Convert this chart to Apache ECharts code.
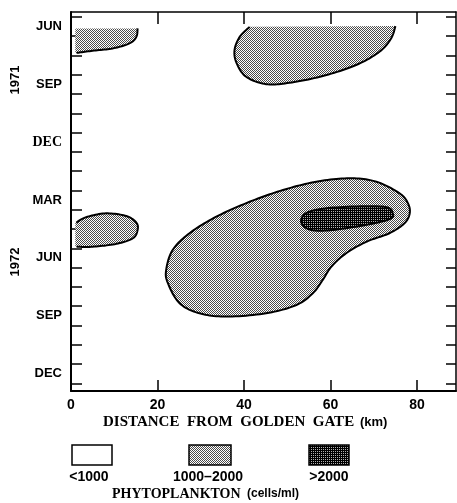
<!DOCTYPE html>
<html><head><meta charset="utf-8">
<script src="https://cdn.jsdelivr.net/npm/echarts/dist/echarts.min.js"></script>
<style>html,body{margin:0;padding:0;background:#fff}#c{width:457px;height:503px}</style>
</head><body><div id="c"></div>
<script>
// ---- data ----
const xTickValues = [0, 20, 40, 60, 80];
const monthTickValues = [0,1,2,3,4,5,6,7,8,9,10,11,12,13,14,15,16,17,18,19]; // month boundaries, 0 = 1 Jun 1971
const monthLabelValues = [0.5, 3.5, 6.5, 9.5, 12.5, 15.5, 18.5];
const monthLabelTexts = ['JUN', 'SEP', 'DEC', 'MAR', 'JUN', 'SEP', 'DEC'];
const yearLabels = ['1971', '1972'];
const legendLabels = ['<1000', '1000\u20132000', '>2000'];

// contours: [distance km, months since 1 Jun 1971]
const contourJun1971Near = [[15.4,0.60],[15.1,1.04],[13.5,1.38],[9.6,1.64],[5.0,1.76],[1.3,1.87]];
const closeJun1971Near = [[1.0,1.87],[1.0,0.60]];
const contourJun1971Far = [[41.3,0.52],[39.0,1.04],[37.8,1.73],[38.3,2.41],[40.5,3.11],[45.1,3.49],[50.5,3.42],[58.2,3.07],[65.9,2.50],[71.3,1.81],[74.0,1.12],[75.0,0.48]];
const closeJun1971Far = [];
const contourApr1972Near = [[1.2,10.67],[3.5,10.39],[8.1,10.19],[12.8,10.33],[15.1,10.67],[15.4,11.05],[14.3,11.48],[10.5,11.77],[5.0,11.92],[1.3,11.92]];
const closeApr1972Near = [[1.0,11.92],[1.0,10.67]];
const contour1972Main = [[64.4,8.37],[70.6,8.55],[75.95,9.15],[77.9,9.67],[78.3,10.19],[77.1,10.70],[73.6,11.22],[68.3,11.66],[63.6,12.26],[60.2,12.95],[58.2,13.64],[55.9,14.33],[52.1,14.94],[45.1,15.37],[35.9,15.54],[29.7,15.37],[25.1,14.85],[22.4,13.81],[22.0,13.12],[23.5,12.09],[27.4,11.22],[33.6,10.36],[41.3,9.59],[49.0,8.98],[56.7,8.55]];
const contour1972Peak = [[53.2,10.53],[55.1,10.10],[61.3,9.88],[72.1,9.84],[74.4,10.19],[73.2,10.53],[65.9,10.88],[58.2,11.09],[54.4,10.96]];

const contours = [
  {curve: contourJun1971Near, close: closeJun1971Near, closed: false, level: 1},
  {curve: contourJun1971Far, close: closeJun1971Far, closed: false, level: 1},
  {curve: contourApr1972Near, close: closeApr1972Near, closed: false, level: 1},
  {curve: contour1972Main, closed: true, level: 1},
  {curve: contour1972Peak, closed: true, level: 2}
];

// ---- patterns ----
function makePattern(cells) {
  const n = cells.length;
  const cv = document.createElement('canvas');
  cv.width = n; cv.height = n;
  const ctx = cv.getContext('2d');
  for (let y = 0; y < n; y++) for (let x = 0; x < n; x++) {
    ctx.fillStyle = cells[y][x];
    ctx.fillRect(x, y, 1, 1);
  }
  return {image: cv, repeat: 'repeat'};
}
const lightPat = makePattern([['#4a4a4a','#ffffff'],['#ffffff','#4a4a4a']]);
const darkPat = makePattern([['#000000','#000000'],['#000000','#b0b0b0']]);

function spline(pts, closed) {
  const n = pts.length, out = [], steps = 12;
  const get = i => closed ? pts[(i + n) % n] : pts[Math.max(0, Math.min(n - 1, i))];
  const segs = closed ? n : n - 1;
  for (let i = 0; i < segs; i++) {
    const p0 = get(i - 1), p1 = get(i), p2 = get(i + 1), p3 = get(i + 2);
    for (let s = 0; s < steps; s++) {
      const t = s / steps, t2 = t * t, t3 = t2 * t;
      const f = k => 0.5 * ((2 * p1[k]) + (-p0[k] + p2[k]) * t + (2 * p0[k] - 5 * p1[k] + 4 * p2[k] - p3[k]) * t2 + (-p0[k] + 3 * p1[k] - 3 * p2[k] + p3[k]) * t3);
      out.push([f(0), f(1)]);
    }
  }
  if (!closed) out.push(pts[n - 1]);
  return out;
}

const SANS = '"Liberation Sans", Arial, sans-serif';
const SERIF = '"Liberation Serif", "Times New Roman", serif';

const chart = echarts.init(document.getElementById('c'), null, {renderer: 'canvas'});
const axisLine = {show: true, onZero: false, lineStyle: {color: '#000', width: 1.5}};
chart.setOption({
  animation: false,
  backgroundColor: '#fff',
  grid: {left: 71, right: 1, top: 12, bottom: 112},
  xAxis: [{
    type: 'value', min: 0, max: 89, position: 'bottom',
    axisLine: {show: true, onZero: false, lineStyle: {color: '#000', width: 2}},
    axisTick: {show: true, inside: true, length: 11, customValues: xTickValues, lineStyle: {color: '#000', width: 1.5}},
    axisLabel: {customValues: xTickValues, margin: 7, fontFamily: SANS, fontWeight: 'bold', fontSize: 14, color: '#000'},
    splitLine: {show: false}
  }, {
    type: 'value', min: 0, max: 89, position: 'top',
    axisLine: axisLine,
    axisTick: {show: true, inside: true, length: 12, customValues: [20, 40, 60, 80], lineStyle: {color: '#000', width: 1.5}},
    axisLabel: {show: false}, splitLine: {show: false}
  }],
  yAxis: [{
    type: 'value', min: -0.25, max: 19.4, inverse: true, position: 'left',
    axisLine: {show: true, onZero: false, lineStyle: {color: '#000', width: 2}},
    axisTick: {show: true, inside: true, length: 11, customValues: monthTickValues, lineStyle: {color: '#000', width: 1.5}},
    axisLabel: {
      customValues: monthLabelValues, margin: 9, color: '#000',
      formatter: function (v) {
        const i = monthLabelValues.indexOf(v);
        const t = monthLabelTexts[i];
        return i === 2 ? '{s|' + t + '}' : '{b|' + t + '}';
      },
      rich: {
        b: {fontFamily: SANS, fontWeight: 'bold', fontSize: 13, color: '#000'},
        s: {fontFamily: SERIF, fontWeight: 'bold', fontSize: 14, color: '#000'}
      }
    },
    splitLine: {show: false}
  }, {
    type: 'value', min: -0.25, max: 19.4, inverse: true, position: 'right',
    axisLine: axisLine,
    axisTick: {show: true, inside: true, length: 10, customValues: monthTickValues, lineStyle: {color: '#000', width: 1.5}},
    axisLabel: {show: false}, splitLine: {show: false}
  }],
  series: [{
    type: 'custom', xAxisIndex: 0, yAxisIndex: 0, clip: false,
    data: contours.map(c => c.curve[0]),
    renderItem: function (params, api) {
      const c = contours[params.dataIndex];
      const px = c.curve.map(p => api.coord(p));
      const curve = spline(px, c.closed);
      let fillPts = curve.slice();
      if (!c.closed) fillPts = fillPts.concat(c.close.map(p => api.coord(p)));
      const fill = c.level === 2 ? darkPat : lightPat;
      const children = [{
        type: 'polygon', shape: {points: fillPts},
        style: {fill: fill, stroke: c.closed ? '#000' : null, lineWidth: 2}
      }];
      if (!c.closed) children.push({type: 'polyline', shape: {points: curve}, style: {stroke: '#000', lineWidth: 2, fill: null}});
      return {type: 'group', children: children};
    }
  }],
  graphic: [
    {type: 'text', x: 15, y: 80, rotation: Math.PI / 2, style: {text: yearLabels[0], font: 'bold 13px ' + SANS, fill: '#000', align: 'center', verticalAlign: 'middle'}},
    {type: 'text', x: 15, y: 262, rotation: Math.PI / 2, style: {text: yearLabels[1], font: 'bold 13px ' + SANS, fill: '#000', align: 'center', verticalAlign: 'middle'}},
    {type: 'text', x: 103, y: 422, style: {text: 'DISTANCE  FROM  GOLDEN  GATE', font: 'bold 15px ' + SERIF, fill: '#000', align: 'left', verticalAlign: 'middle'}},
    {type: 'text', x: 360, y: 422, style: {text: '(km)', font: 'bold 13px ' + SANS, fill: '#000', align: 'left', verticalAlign: 'middle'}},
    {type: 'rect', shape: {x: 72, y: 445, width: 40, height: 20}, style: {fill: '#fff', stroke: '#000', lineWidth: 1.5}},
    {type: 'rect', shape: {x: 189, y: 445, width: 42, height: 20}, style: {fill: lightPat, stroke: '#000', lineWidth: 1.5}},
    {type: 'rect', shape: {x: 309, y: 445, width: 40, height: 20}, style: {fill: darkPat, stroke: '#000', lineWidth: 1.5}},
    {type: 'text', x: 89, y: 477, style: {text: legendLabels[0], font: 'bold 14px ' + SANS, fill: '#000', align: 'center', verticalAlign: 'middle'}},
    {type: 'text', x: 208, y: 477, style: {text: legendLabels[1], font: 'bold 14px ' + SANS, fill: '#000', align: 'center', verticalAlign: 'middle'}},
    {type: 'text', x: 329, y: 477, style: {text: legendLabels[2], font: 'bold 14px ' + SANS, fill: '#000', align: 'center', verticalAlign: 'middle'}},
    {type: 'text', x: 112, y: 494, style: {text: 'PHYTOPLANKTON', font: 'bold 14px ' + SERIF, fill: '#000', align: 'left', verticalAlign: 'middle'}},
    {type: 'text', x: 247, y: 494, style: {text: '(cells/ml)', font: 'bold 12px ' + SANS, fill: '#000', align: 'left', verticalAlign: 'middle'}}
  ]
});
</script>
</body></html>
